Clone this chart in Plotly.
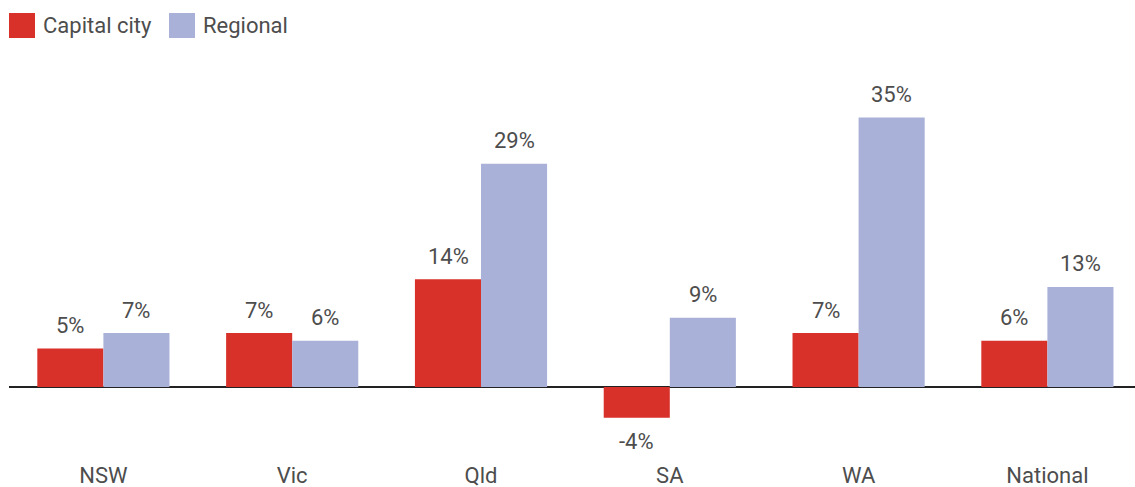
import plotly.graph_objects as go

categories = ["NSW", "Vic", "Qld", "SA", "WA", "National"]
capital_city = [5, 7, 14, -4, 7, 6]
regional = [7, 6, 29, 9, 35, 13]
series_names = ["Capital city", "Regional"]

RED = "#d8312a"
LAV = "#aab1d8"
TXT = "#4d4d4d"
FONT = "Roboto"
FS = 22

fig = go.Figure()
fig.add_bar(x=categories, y=capital_city, name=series_names[0], marker_color=RED,
            marker_line_width=0, showlegend=False)
fig.add_bar(x=categories, y=regional, name=series_names[1], marker_color=LAV,
            marker_line_width=0, showlegend=False)

annotations = []
for vals, xs in ((capital_city, -33), (regional, 33)):
    for c, v in zip(categories, vals):
        annotations.append(dict(
            x=c, y=v, xref="x", yref="y", text=f"{v}%", showarrow=False,
            xshift=xs, yshift=23 if v >= 0 else -24,
            xanchor="center", yanchor="middle",
            font=dict(family=FONT, size=FS, color=TXT)))

# legend (swatches + labels) drawn in the top margin
shapes = []
for name, color, sx in ((series_names[0], RED, 0), (series_names[1], LAV, 160)):
    shapes.append(dict(type="rect", xref="paper", yref="paper",
                       xsizemode="pixel", ysizemode="pixel", xanchor=0, yanchor=1,
                       x0=sx, x1=sx + 26, y0=22, y1=47,
                       fillcolor=color, line=dict(width=0)))
    annotations.append(dict(x=0, y=1, xref="paper", yref="paper", text=name,
                            showarrow=False, xanchor="left", yanchor="middle",
                            xshift=sx + 32, yshift=35,
                            font=dict(family=FONT, size=FS, color=TXT)))

fig.update_layout(
    width=1135, height=487,
    margin=dict(l=9, r=0, t=60, b=27),
    paper_bgcolor="white", plot_bgcolor="white",
    barmode="group", bargap=0.3, bargroupgap=0,
    font=dict(family=FONT, size=FS, color=TXT),
    showlegend=False,
    annotations=annotations,
    shapes=shapes,
    xaxis=dict(range=[-0.5, 5.464], showgrid=False, showline=False, ticks="",
               tickfont=dict(family=FONT, size=FS, color=TXT), fixedrange=True),
    yaxis=dict(range=[-9.48, 42.47], showgrid=False, showticklabels=False, ticks="",
               zeroline=True, zerolinecolor="#222222", zerolinewidth=1.5,
               showline=False, fixedrange=True),
)

fig.write_html("out.html", config=dict(displayModeBar=False))
